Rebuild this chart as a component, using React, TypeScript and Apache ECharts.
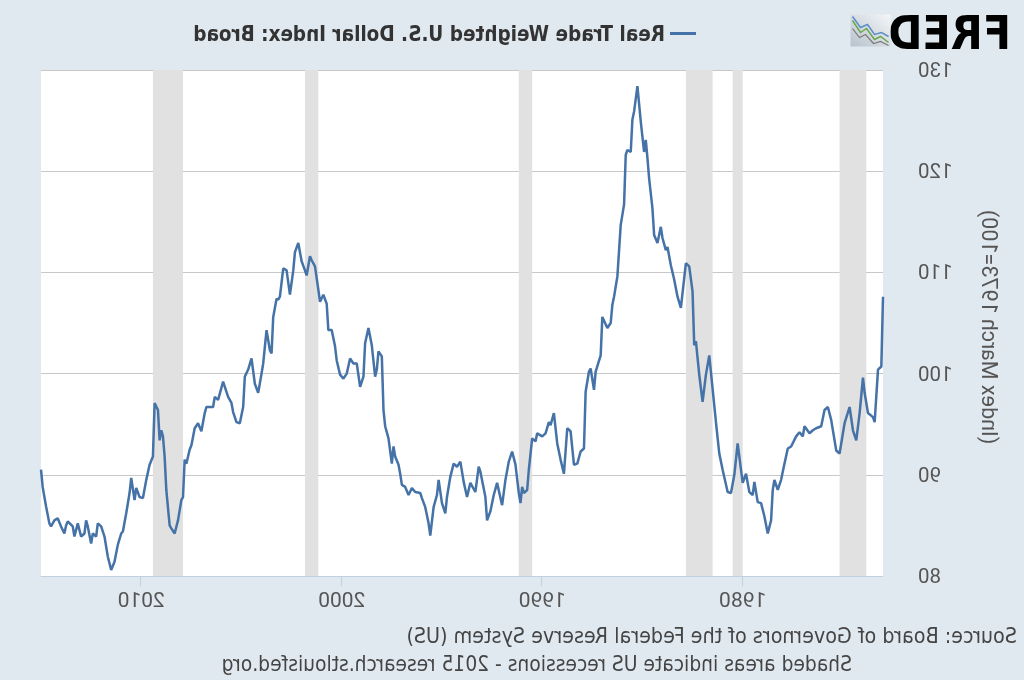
import React, { useEffect, useRef } from "react";
import * as echarts from "echarts";

const seriesName = "Real Trade Weighted U.S. Dollar Index: Broad";
const yAxisTitle = "(Index March 1973=100)";
const sourceLine = "Source: Board of Governors of the Federal Reserve System (US)";
const noteLine = "Shaded areas indicate US recessions - 2015 research.stlouisfed.org";

const dates = [
  "1973-01","1973-02","1973-04","1973-06","1973-07","1973-10","1973-12","1974-01","1974-03","1974-05",
  "1974-07","1974-09","1974-12","1975-03","1975-05","1975-08","1975-10","1975-12","1976-02","1976-05",
  "1976-07","1976-09","1976-12","1977-01","1977-03","1977-05","1977-08","1977-10","1977-12","1978-02",
  "1978-04","1978-06","1978-07","1978-08","1978-10","1978-12","1979-02","1979-04","1979-06","1979-07",
  "1979-09","1979-11","1980-01","1980-04","1980-06","1980-08","1980-10","1981-01","1981-03","1981-05",
  "1981-09","1981-11","1982-01","1982-03","1982-05","1982-06","1982-07","1982-09","1982-11","1983-02",
  "1983-04","1983-06","1983-08","1983-10","1983-11","1984-01","1984-02","1984-04","1984-06","1984-07",
  "1984-09","1984-10","1984-11","1984-12","1985-02","1985-04","1985-06","1985-07","1985-08","1985-10",
  "1985-11","1985-12","1986-02","1986-04","1986-06","1986-07","1986-08","1986-10","1987-01","1987-02",
  "1987-05","1987-06","1987-08","1987-09","1987-11","1987-12","1988-02","1988-04","1988-06","1988-08",
  "1988-10","1988-12","1989-02","1989-04","1989-06","1989-08","1989-09","1989-11","1990-01","1990-04",
  "1990-05","1990-07","1990-09","1990-10","1990-12","1991-01","1991-02","1991-03","1991-05","1991-07",
  "1991-09","1991-11","1992-01","1992-04","1992-06","1992-08","1992-10","1992-11","1993-02","1993-03",
  "1993-05","1993-08","1993-10","1993-12","1994-02","1994-04","1994-06","1994-08","1994-10","1994-11",
  "1995-01","1995-03","1995-04","1995-06","1995-08","1995-09","1995-11","1996-01","1996-02","1996-05",
  "1996-07","1996-09","1996-11","1997-01","1997-02","1997-03","1997-05","1997-06","1997-07","1997-09",
  "1997-11","1997-12","1998-01","1998-03","1998-04","1998-05","1998-07","1998-09","1998-11","1998-12",
  "1999-02","1999-04","1999-06","1999-08","1999-10","1999-12","2000-02","2000-04","2000-05","2000-07",
  "2000-09","2000-10","2000-12","2001-02","2001-03","2001-05","2001-07","2001-08","2001-10","2001-11",
  "2002-01","2002-03","2002-05","2002-06","2002-08","2002-10","2002-12","2003-01","2003-02","2003-03",
  "2003-04","2003-06","2003-07","2003-08","2003-10","2003-12","2004-01","2004-03","2004-05","2004-07",
  "2004-09","2004-11","2004-12","2005-02","2005-04","2005-06","2005-07","2005-09","2005-12","2006-03",
  "2006-05","2006-06","2006-10","2006-11","2007-01","2007-03","2007-05","2007-07","2007-08","2007-10",
  "2007-11","2007-12","2008-01","2008-03","2008-05","2008-07","2008-08","2008-10","2008-11","2008-12",
  "2009-01","2009-02","2009-03","2009-05","2009-06","2009-08","2009-10","2009-12","2010-02","2010-04",
  "2010-05","2010-07","2010-08","2010-10","2010-12","2011-01","2011-03","2011-05","2011-07","2011-09",
  "2011-11","2012-01","2012-03","2012-04","2012-06","2012-07","2012-09","2012-10","2012-11","2013-01",
  "2013-03","2013-05","2013-06","2013-09","2013-10","2013-11","2014-01","2014-03","2014-05","2014-07",
  "2014-08","2014-10","2014-12","2015-01"
];

const values = [
  107.6,100.7,100.4,95.2,95.7,96.1,98.1,99.6,96.1,93.4,
  94.4,96.7,95.1,92.1,92.4,95.4,96.7,96.4,94.8,94.6,
  94.4,94.1,94.8,93.8,94.2,93.8,92.8,92.6,91.1,89.5,
  88.5,89.5,88.5,85.5,84.2,85.9,87.2,87.3,89.3,88.0,
  88.3,90.1,89.2,93.1,90.0,88.2,88.3,90.5,92.1,95.2,
  101.8,99.9,97.2,99.9,103.2,102.8,108.1,110.6,110.9,106.5,
  107.6,109.3,110.7,112.5,112.2,113.4,114.5,112.9,113.7,116.3,
  119.3,121.3,123.1,121.9,124.9,128.4,125.9,125.1,121.9,122.1,
  121.6,116.7,114.7,109.6,107.6,106.8,105.0,104.5,105.6,101.8,
  100.2,98.4,100.5,100.2,98.2,92.6,92.3,91.1,91.0,94.3,
  94.6,90.1,91.5,93.1,96.1,94.9,95.2,94.1,93.8,94.1,
  93.3,93.6,90.5,88.5,88.2,88.8,87.2,88.2,91.0,92.3,
  91.3,89.5,87.0,89.2,88.0,86.4,85.5,87.8,90.3,90.8,
  88.3,89.2,87.8,89.3,91.3,90.8,91.1,89.8,87.8,86.2,
  87.2,89.5,88.0,86.8,84.0,85.2,86.8,87.7,88.2,88.3,
  88.7,88.0,88.8,89.0,90.1,91.0,91.8,92.8,91.1,93.6,
  94.8,96.4,101.7,102.2,100.4,99.7,102.8,104.5,103.0,99.7,
  98.7,101.0,101.0,101.5,100.0,99.5,99.9,101.3,102.7,104.3,
  104.3,106.9,107.8,107.1,108.3,110.6,111.2,111.6,109.7,110.2,
  111.1,112.9,112.0,110.2,107.8,110.2,110.4,109.0,107.6,107.3,
  107.4,105.6,102.0,102.3,104.3,101.0,100.0,98.1,99.0,101.5,
  100.4,99.7,96.7,95.1,95.2,96.2,97.1,97.7,99.2,97.4,
  97.7,96.7,96.7,96.1,94.3,95.1,94.6,92.9,92.5,91.1,
  91.5,87.8,87.5,85.5,84.2,84.7,85.0,88.5,91.8,93.8,
  94.4,93.4,96.4,97.1,91.8,91.0,89.5,87.7,87.8,88.7,
  87.5,89.7,88.2,86.2,84.4,84.2,83.1,81.4,80.6,81.9,
  83.9,84.9,85.2,83.9,84.2,83.2,84.9,85.5,84.2,83.9,
  85.2,83.9,84.9,85.4,85.0,84.2,84.9,85.7,85.5,84.9,
  85.2,86.9,88.8,90.5
];

const recessions = [
  ["1973-11", "1975-03"],
  ["1980-01", "1980-07"],
  ["1981-07", "1982-11"],
  ["1990-07", "1991-03"],
  ["2001-03", "2001-11"],
  ["2007-12", "2009-06"]
];

const xTickYears = [1980, 1990, 2000, 2010];
const yMin = 80;
const yMax = 130;
const yStep = 10;

function toYear(d: string): number {
  const [y, m] = d.split("-").map(Number);
  return y + (m - 1) / 12;
}

export default function App() {
  const ref = useRef<HTMLDivElement>(null);

  useEffect(() => {
    document.body.style.margin = "0";
    if (!ref.current) return;
    const chart = echarts.init(ref.current, null, { renderer: "svg" });
    const data = dates.map((d, i) => [toYear(d), values[i]]);
    const condensed = "'Liberation Sans Narrow', 'DejaVu Sans Condensed', 'Roboto', sans-serif";
    const labelFont = "Roboto, sans-serif";

    chart.setOption({
      animation: false,
      backgroundColor: "#e1e9f0",
      grid: {
        left: 141,
        right: 41,
        top: 70,
        bottom: 104,
        show: true,
        backgroundColor: "#ffffff",
        borderWidth: 0
      },
      legend: {
        left: 323,
        top: 18,
        itemWidth: 26,
        itemHeight: 3,
        itemGap: 6,
        data: [{ name: seriesName, icon: "rect" }],
        textStyle: {
          fontFamily: condensed,
          fontWeight: "bold",
          fontSize: 20.5,
          color: "#333333"
        }
      },
      xAxis: {
        type: "value",
        min: toYear(dates[0]),
        max: toYear(dates[dates.length - 1]),
        axisLine: { show: true, lineStyle: { color: "#c0d0e0", width: 1 } },
        axisTick: {
          show: true,
          length: 10,
          lineStyle: { color: "#c0d0e0" },
          customValues: xTickYears
        },
        axisLabel: {
          customValues: xTickYears,
          margin: 13,
          fontFamily: labelFont,
          fontSize: 21,
          color: "#555555",
          formatter: (v: number) => String(Math.round(v))
        },
        splitLine: { show: false }
      },
      yAxis: {
        type: "value",
        min: yMin,
        max: yMax,
        interval: yStep,
        axisLine: { show: false },
        axisTick: { show: false },
        axisLabel: {
          margin: 35,
          fontFamily: labelFont,
          fontSize: 20.5,
          color: "#555555"
        },
        splitLine: { show: true, lineStyle: { color: "#c8c8c8", width: 1 } }
      },
      series: [
        {
          name: seriesName,
          type: "line",
          data,
          symbol: "none",
          color: "#4572a7",
          lineStyle: { color: "#4572a7", width: 2.5 },
          z: 3,
          markArea: {
            silent: true,
            itemStyle: { color: "#e1e1e1" },
            data: recessions.map(([s, e]) => [{ xAxis: toYear(s) }, { xAxis: toYear(e) }])
          }
        }
      ],
      graphic: [
        {
          type: "text",
          x: 34,
          y: 327,
          rotation: Math.PI / 2,
          style: {
            text: yAxisTitle,
            fontFamily: labelFont,
            fontSize: 21.5,
            fill: "#555555",
            textAlign: "center",
            textVerticalAlign: "middle"
          }
        },
        {
          type: "text",
          left: 7,
          top: 625,
          style: {
            text: sourceLine,
            fontFamily: condensed,
            fontSize: 21.3,
            fill: "#444444"
          }
        },
        {
          type: "text",
          left: 172,
          top: 653,
          style: {
            text: noteLine,
            fontFamily: condensed,
            fontSize: 20.8,
            fill: "#444444"
          }
        },
        {
          type: "text",
          left: 13,
          top: 10,
          style: {
            text: "FRED",
            fontFamily: "'DejaVu Sans Condensed', 'Liberation Sans Narrow', sans-serif",
            fontWeight: "bold",
            fontSize: 46,
            fill: "#000000"
          }
        },
        {
          type: "group",
          left: 133,
          top: 14,
          children: [
            {
              type: "rect",
              shape: { x: 0, y: 0, width: 40, height: 32 },
              style: {
                fill: new echarts.graphic.LinearGradient(0, 0, 1, 1, [
                  { offset: 0, color: "#f4f6f8" },
                  { offset: 1, color: "#b8c2cc" }
                ])
              }
            },
            {
              type: "polyline",
              shape: { points: [[2, 28], [10, 22], [16, 25], [24, 14], [30, 18], [38, 6]] },
              style: { stroke: "#6aa84f", lineWidth: 1.5, fill: "none" }
            },
            {
              type: "polyline",
              shape: { points: [[2, 22], [9, 18], [16, 20], [23, 10], [30, 13], [38, 2]] },
              style: { stroke: "#5b8fc7", lineWidth: 1.5, fill: "none" }
            },
            {
              type: "polyline",
              shape: { points: [[2, 31], [10, 27], [17, 29], [25, 20], [31, 23], [38, 14]] },
              style: { stroke: "#7a7a7a", lineWidth: 1.2, fill: "none" }
            }
          ]
        }
      ]
    });

    return () => chart.dispose();
  }, []);

  return (
    <div
      ref={ref}
      style={{
        position: "fixed",
        left: 0,
        top: 0,
        width: 1024,
        height: 680,
        transform: "scaleX(-1)"
      }}
    />
  );
}
